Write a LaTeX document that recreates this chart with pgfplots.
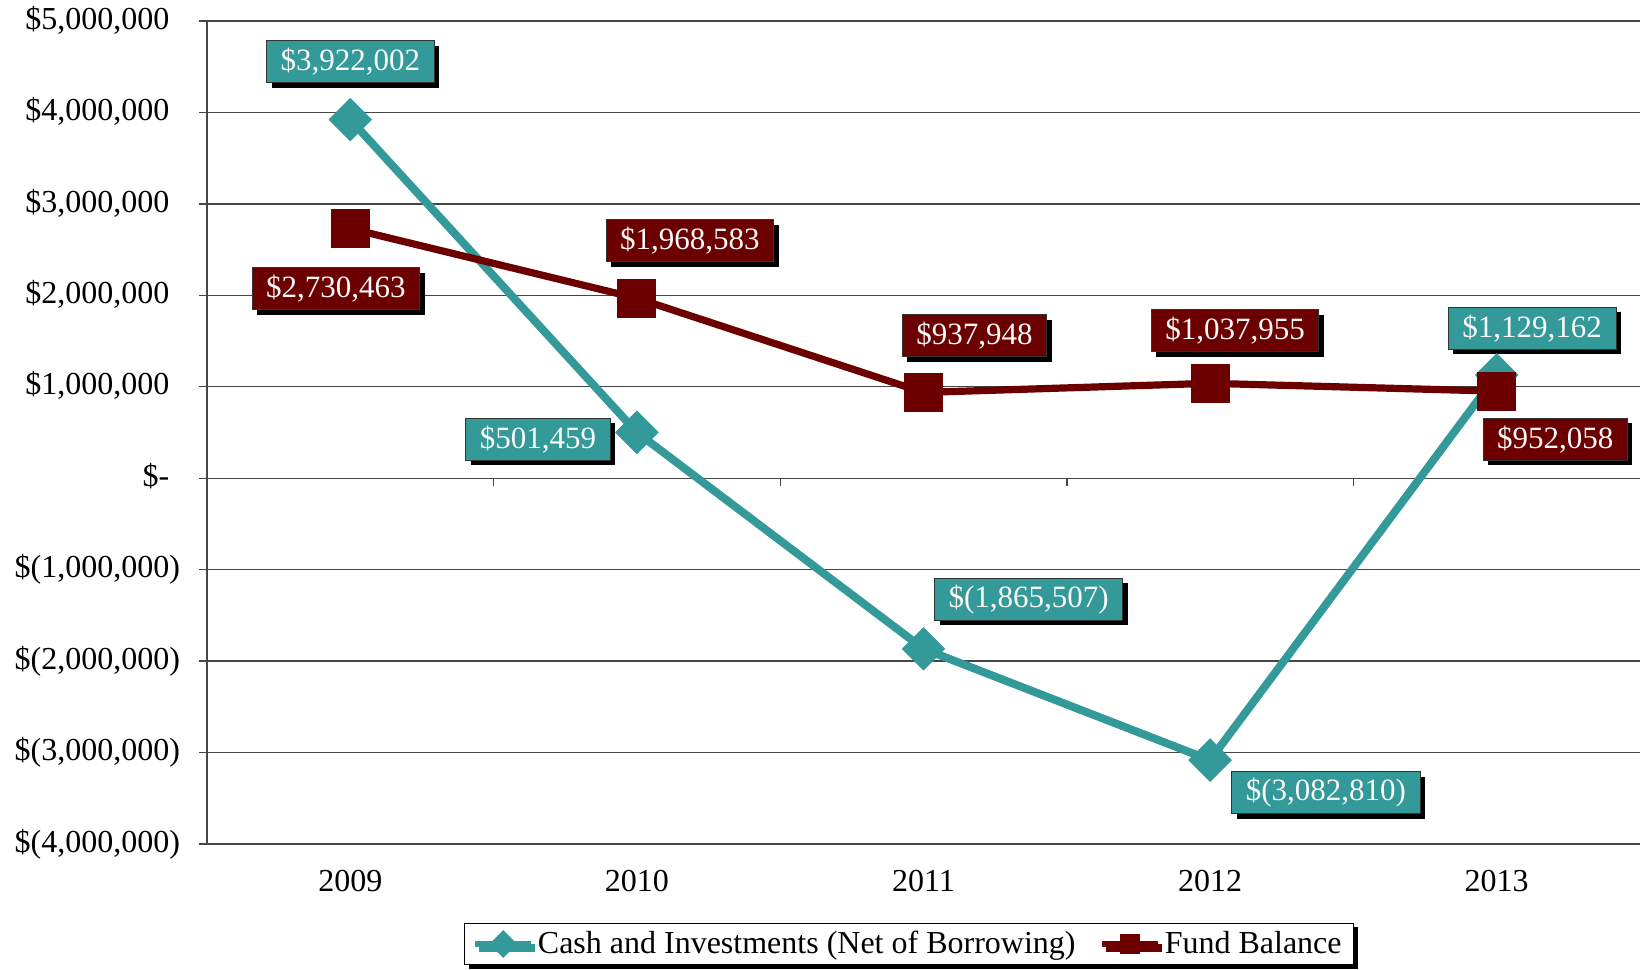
\documentclass[border=0pt]{standalone}
\usepackage{fontspec}
\setmainfont{Liberation Serif}
\usepackage{pgfplots}
\pgfplotsset{compat=1.18}
\usetikzlibrary{shadows}
\definecolor{teal1}{RGB}{51,153,153}
\definecolor{dred}{RGB}{108,0,0}
\definecolor{gridc}{RGB}{70,70,70}
\newcommand{\pp}{\phantom{)}}
\begin{document}
\begin{tikzpicture}[
  lab/.style={draw=black!80, line width=0.4pt, text=white!95!gray,
    font=\fontsize{15.5}{18}\selectfont, inner xsep=7pt, inner ysep=0pt,
    minimum height=21pt, anchor=center,
    drop shadow={shadow xshift=2.5pt, shadow yshift=-2.5pt, fill=black, opacity=1}},
]
\useasboundingbox (-103.5pt,-63pt) rectangle (716.5pt,422pt);
\begin{axis}[
  at={(0,0)}, anchor=south west,
  scale only axis, width=716.5pt, height=411.5pt,
  clip=false,
  xmin=-0.5, xmax=4.5, ymin=-4000000, ymax=5000000,
  axis lines*=left,
  axis line style={gridc, line width=0.7pt},
  xtick={0,1,2,3,4},
  xticklabels={2009,2010,2011,2012,2013},
  xtick style={draw=none},
  xticklabel style={font=\fontsize{16}{19}\selectfont, yshift=-5.8pt},
  ytick={-4000000,-3000000,-2000000,-1000000,0,1000000,2000000,3000000,4000000,5000000},
  yticklabels={{\$(4,000,000)},{\$(3,000,000)},{\$(2,000,000)},{\$(1,000,000)},{\$-\pp},{\$1,000,000\pp},{\$2,000,000\pp},{\$3,000,000\pp},{\$4,000,000\pp},{\$5,000,000\pp}},
  yticklabel style={font=\fontsize{16}{19}\selectfont, xshift=-6pt},
  ytick style={gridc, line width=0.7pt},
  tick align=outside,
  major tick length=4pt,
  ymajorgrids,
  grid style={gridc, line width=0.7pt},
  legend style={at={(0.49,-0.1215)}, anchor=center, draw=black, line width=0.6pt,
    fill=white, font=\fontsize{16}{19}\selectfont, inner xsep=4pt, inner ysep=2pt,
    legend columns=2,
    drop shadow={shadow xshift=2pt, shadow yshift=-2pt, fill=black, opacity=1},
    /tikz/every even column/.append style={column sep=10pt}},
  legend image code/.code={\draw[#1, mark size=3.6pt, mark repeat=2, mark phase=2, line width=2.6pt]
     plot coordinates {(0pt,0pt) (14pt,0pt) (28pt,0pt)};},
  legend cell align=left,
]
% small tick marks on the zero line
\draw[gridc, line width=0.7pt] (axis cs:0.5,0) -- ([yshift=-4pt]axis cs:0.5,0);
\draw[gridc, line width=0.7pt] (axis cs:1.5,0) -- ([yshift=-4pt]axis cs:1.5,0);
\draw[gridc, line width=0.7pt] (axis cs:2.5,0) -- ([yshift=-4pt]axis cs:2.5,0);
\draw[gridc, line width=0.7pt] (axis cs:3.5,0) -- ([yshift=-4pt]axis cs:3.5,0);

\addplot[teal1, line width=4pt, mark=square*, mark size=5.7pt,
  mark options={rotate=45, solid}] coordinates {
  (0,3922002) (1,501459) (2,-1865507) (3,-3082810) (4,1129162)};
\addlegendentry{Cash and Investments (Net of Borrowing)}
\addplot[dred, line width=3.6pt, mark=square*, mark size=8pt,
  mark options={solid}] coordinates {
  (0,2730463) (1,1968583) (2,937948) (3,1037955) (4,952058)};
\addlegendentry{Fund Balance}

\node[lab, fill=teal1] at (axis cs:0,4554000) {\$3,922,002};
\node[lab, fill=dred] at (axis cs:-0.05,2072000) {\$2,730,463};
\node[lab, fill=dred] at (axis cs:1.185,2598000) {\$1,968,583};
\node[lab, fill=teal1] at (axis cs:0.655,425000) {\$501,459};
\node[lab, fill=dred] at (axis cs:2.178,1558000) {\$937,948};
\node[lab, fill=teal1] at (axis cs:2.367,-1324000) {\$(1,865,507)};
\node[lab, fill=dred] at (axis cs:3.087,1615000) {\$1,037,955};
\node[lab, fill=teal1] at (axis cs:3.404,-3440000) {\$(3,082,810)};
\node[lab, fill=teal1] at (axis cs:4.124,1638000) {\$1,129,162};
\node[lab, fill=dred] at (axis cs:4.204,425000) {\$952,058};
\end{axis}
\end{tikzpicture}
\end{document}
